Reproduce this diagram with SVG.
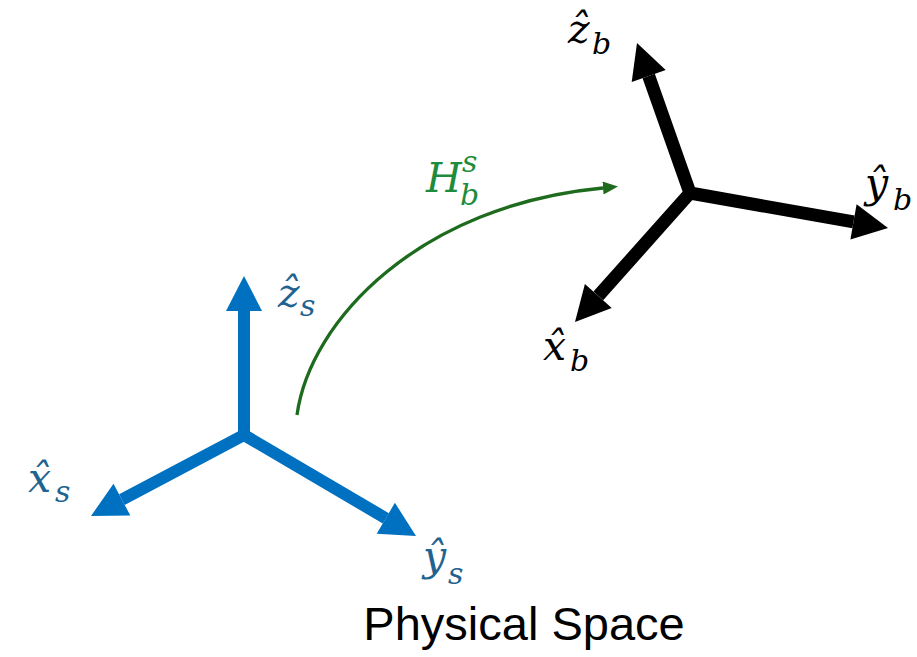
<svg xmlns="http://www.w3.org/2000/svg" width="917" height="657" viewBox="0 0 917 657">
<style>
.m{font-family:"DejaVu Serif","Liberation Serif",serif;font-style:italic;font-size:41px}
.sub{font-size:30px}
.blue{fill:#1F6390}
.blk{fill:#000}
.grn{fill:#1E8C3C}
.ax-b{stroke:#0070C0;stroke-width:12;fill:none}
.hd-b{fill:#0070C0}
.ax-k{stroke:#000;stroke-width:13;fill:none}
.hd-k{fill:#000}
.title{font-family:"Liberation Sans",Arial,sans-serif;font-size:47px;fill:#000}
</style>
<defs>
<marker id="gh" markerUnits="userSpaceOnUse" markerWidth="16" markerHeight="14" refX="0" refY="6.5" orient="auto">
<path d="M0,0 L15,6.5 L0,13 z" fill="#1E6B1E"/>
</marker>
</defs>
<g id="frame-s">
<path class="ax-b" d="M244,435 L244,311 M244,435 L121.9,499.6 M244,435 L385.8,518.3"/>
<polygon class="hd-b" points="244,276 226,311 262,311"/>
<polygon class="hd-b" points="91,516 130.3,515.5 113.5,483.7"/>
<polygon class="hd-b" points="416,536 376.7,533.8 394.9,502.8"/>
</g>
<g id="frame-b">
<path class="ax-k" d="M690,193 L648.7,76 M690,193 L853.5,221.9 M690,193 L598.3,295.9"/>
<polygon class="hd-k" points="637,43 665.7,70 631.7,82"/>
<polygon class="hd-k" points="888,228 850.4,239.6 856.6,204.2"/>
<polygon class="hd-k" points="575,322 611.7,307.9 584.9,283.9"/>
</g>
<g id="connectors">
<path d="M297,415 C310,320 420,205 603,188" stroke="#1E6B1E" stroke-width="3.3" fill="none" marker-end="url(#gh)"/>
</g>
<g id="labels-s" class="m blue">
<text x="278" y="307">z&#770;</text><text class="sub" x="300" y="316">s</text>
<text x="28" y="492">x&#770;</text><text class="sub" x="55" y="502">s</text>
<text x="423" y="570">y&#770;</text><text class="sub" x="448" y="584">s</text>
</g>
<g id="labels-b" class="m blk">
<text x="568" y="43">z&#770;</text><text class="sub" x="592" y="54">b</text>
<text x="865" y="197">y&#770;</text><text class="sub" x="893" y="210">b</text>
<text x="543" y="360">x&#770;</text><text class="sub" x="570" y="371">b</text>
</g>
<g id="label-H" class="m grn">
<text x="426" y="192">H</text><text class="sub" x="462" y="172">s</text><text class="sub" x="460" y="205">b</text>
</g>
<text class="title" x="524" y="640" text-anchor="middle">Physical Space</text>
</svg>
